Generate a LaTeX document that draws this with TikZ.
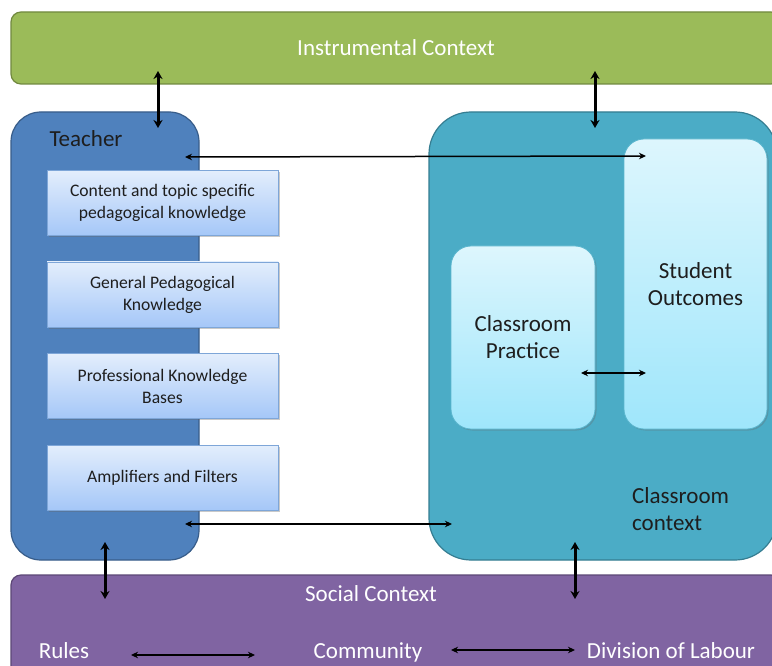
\documentclass[tikz,border=0pt]{standalone}
\usepackage{fontspec}
\setmainfont{Carlito}
\usetikzlibrary{arrows.meta,shadows}
\definecolor{instgreen}{HTML}{9BBB59}
\definecolor{instborder}{HTML}{71893F}
\definecolor{teachblue}{HTML}{4F81BD}
\definecolor{teachborder}{HTML}{385D8A}
\definecolor{classteal}{HTML}{4BACC6}
\definecolor{classborder}{HTML}{357D91}
\definecolor{socpurple}{HTML}{8064A2}
\definecolor{socborder}{HTML}{5C4776}
\definecolor{kbtop}{HTML}{E3EEFC}
\definecolor{kbbot}{HTML}{A5C7F8}
\definecolor{kbborder}{HTML}{7EA6D8}
\definecolor{cltop}{HTML}{DDF6FD}
\definecolor{clbot}{HTML}{9FE6FB}
\definecolor{clinborder}{HTML}{5BB6CE}
\definecolor{txt}{HTML}{1E1E1E}
\begin{document}
\begin{tikzpicture}[x=1pt,y=-1pt,
  bar/.style={draw, line width=1.2pt, rounded corners=10pt, inner sep=0pt, outer sep=0pt},
  bigbox/.style={draw, line width=1.2pt, inner sep=0pt, outer sep=0pt},
  kbox/.style={draw=kbborder, line width=0.8pt, top color=kbtop, bottom color=kbbot,
     minimum width=231pt, minimum height=65pt, inner sep=0pt, align=center, text=txt,
     font=\fontsize{17.6}{22}\selectfont,
     drop shadow={shadow xshift=1.5pt, shadow yshift=-1.5pt, opacity=0.35, fill=black!60}},
  cbox/.style={draw=clinborder, line width=0.8pt, top color=cltop, bottom color=clbot,
     rounded corners=20pt, inner sep=0pt, align=center, text=txt,
     font=\fontsize{23}{27}\selectfont,
     drop shadow={shadow xshift=1.5pt, shadow yshift=-1.5pt, opacity=0.3, fill=black!60}},
  lbl/.style={inner sep=0pt, font=\fontsize{23}{27}\selectfont},
  thick arrow/.style={line width=3pt, {Stealth[length=8pt,width=9pt]}-{Stealth[length=8pt,width=9pt]}},
  thin arrow/.style={line width=1.5pt, {Stealth[length=7pt,width=6.5pt]}-{Stealth[length=7pt,width=6.5pt]}}
]
\useasboundingbox (0,0) rectangle (772,666);
\clip (0,0) rectangle (772,666);
\fill[white] (0,0) rectangle (772,666);

% bars
\node[bar, fill=instgreen, draw=instborder, minimum width=770pt, minimum height=72pt] (inst) at (396,48) {};
\node[lbl, text=white] (instlbl) at (396,48) {Instrumental Context};

\node[bar, fill=socpurple, draw=socborder, minimum width=770pt, minimum height=130pt] (soc) at (396,640) {};
\node[lbl, text=white, anchor=base] (soclbl) at (371,601) {Social Context};
\node[lbl, text=white, anchor=base] (rules) at (64,658) {Rules};
\node[lbl, text=white, anchor=base] (comm) at (368,658) {Community};
\node[lbl, text=white, anchor=base] (dol) at (671,658) {Division of Labour};

% teacher
\node[bigbox, fill=teachblue, draw=teachborder, rounded corners=30pt, minimum width=188pt, minimum height=448pt] (teacher) at (105,336) {};
\node[lbl, text=txt, anchor=base] (teachlbl) at (86,147) {Teacher};

\node[kbox] (k1) at (162.5,203) {Content and topic specific\\pedagogical knowledge};
\node[kbox] (k2) at (162.5,294.5) {General Pedagogical\\Knowledge};
\node[kbox] (k3) at (162.5,386) {Professional Knowledge\\Bases};
\node[kbox] (k4) at (162.5,477.5) {Amplifiers and Filters};

% classroom context
\node[bigbox, fill=classteal, draw=classborder, rounded corners=42pt, minimum width=348pt, minimum height=448pt] (cc) at (603,336) {};
\node[lbl, text=txt, anchor=west, align=left] (cclbl) at (632,509.5) {Classroom\\context};

\node[cbox, minimum width=143pt, minimum height=290pt] (so) at (695.5,284) {Student\\Outcomes};
\node[cbox, minimum width=144pt, minimum height=183pt] (cp) at (523,337.5) {Classroom\\Practice};

% connector end points
\coordinate (iA) at (158,71);
\coordinate (tA) at (158,128);
\coordinate (iB) at (595,71);
\coordinate (cA) at (595,128);
\coordinate (tB) at (185,157);
\coordinate (soA) at (646,156);
\coordinate (cpA) at (581,373);
\coordinate (soB) at (646,373);
\coordinate (tC) at (185,524);
\coordinate (cB) at (452,524);
\coordinate (tD) at (105,542);
\coordinate (sA) at (105,599);
\coordinate (cC) at (575,542);
\coordinate (sB) at (575,599);
\coordinate (rA) at (131,655);
\coordinate (coA) at (255,655);
\coordinate (coB) at (451,650);
\coordinate (dA) at (575,650);

\draw[thick arrow] (iA) -- (tA);
\draw[thick arrow] (iB) -- (cA);
\draw[thin arrow] (tB) -- (soA);
\draw[thin arrow] (cpA) -- (soB);
\draw[thin arrow] (tC) -- (cB);
\draw[thick arrow] (tD) -- (sA);
\draw[thick arrow] (cC) -- (sB);
\draw[thin arrow] (rA) -- (coA);
\draw[thin arrow] (coB) -- (dA);
\end{tikzpicture}
\end{document}
